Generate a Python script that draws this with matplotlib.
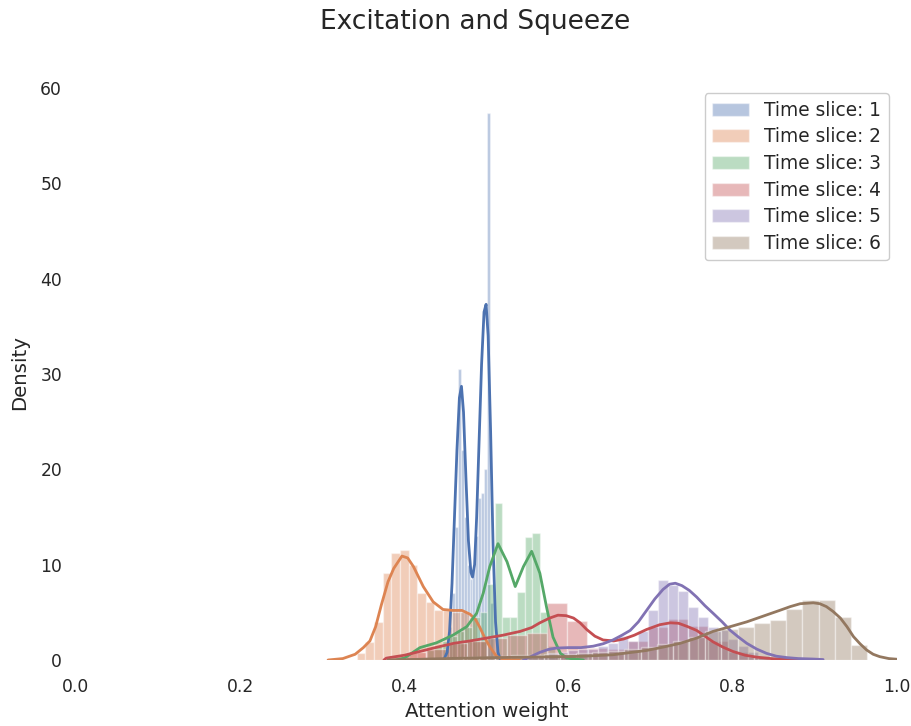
import matplotlib
matplotlib.use("Agg")
import matplotlib.pyplot as plt
import numpy as np

# ---------------- data ----------------
series_labels = ["Time slice: 1", "Time slice: 2", "Time slice: 3",
                 "Time slice: 4", "Time slice: 5", "Time slice: 6"]

# Time slice 1
s1_bin_start, s1_bin_width = 0.4505, 0.0036
s1_hist = [1.0, 3.5, 7.0, 14.0, 30.5, 22.0, 15.0, 10.0, 8.5, 9.5, 13.0, 17.0,
           17.5, 20.0, 57.4, 6.0]
s1_kde_x = [0.448, 0.452, 0.455, 0.458, 0.461, 0.464, 0.467, 0.4695, 0.472, 0.475,
            0.478, 0.481, 0.483, 0.4855, 0.488, 0.491, 0.494, 0.497, 0.4995, 0.502,
            0.505, 0.508, 0.511, 0.514, 0.517]
s1_kde_y = [0.0, 0.8, 3.0, 8.0, 15.0, 22.0, 27.5, 28.7, 26.0, 19.0,
            12.5, 9.2, 8.7, 10.0, 15.0, 23.0, 31.0, 36.5, 37.3, 34.0,
            24.0, 12.0, 4.0, 0.8, 0.0]

# Time slice 2
s2_bin_start, s2_bin_width = 0.342, 0.0105
s2_hist = [0.7, 1.9, 4.0, 9.1, 11.2, 11.5, 10.0, 7.0, 6.1, 5.2, 5.2, 5.0, 5.0, 4.5, 2.0]
s2_kde_x = [0.307, 0.325, 0.340, 0.350, 0.358, 0.365, 0.372, 0.380, 0.387, 0.397,
            0.404, 0.411, 0.423, 0.435, 0.447, 0.459, 0.470, 0.480, 0.487, 0.492,
            0.498, 0.504, 0.512, 0.520, 0.540]
s2_kde_y = [0.0, 0.15, 0.6, 1.3, 2.0, 3.5, 5.8, 8.2, 9.6, 10.9,
            10.7, 9.8, 7.7, 6.1, 5.3, 5.2, 5.2, 4.8, 4.2, 3.4,
            2.3, 1.4, 0.4, 0.08, 0.0]

# Time slice 3
s3_bin_start, s3_bin_width = 0.4272, 0.0092
s3_hist = [1.0, 1.5, 2.0, 2.5, 3.0, 3.5, 4.5, 5.0, 8.0, 16.5, 4.5, 4.5, 7.1, 12.9,
           13.3, 5.0, 1.5, 0.5, 0.3]
s3_kde_x = [0.390, 0.400, 0.419, 0.439, 0.459, 0.476, 0.488, 0.496, 0.504, 0.514,
            0.525, 0.535, 0.545, 0.555, 0.565, 0.573, 0.581, 0.590, 0.598, 0.618]
s3_kde_y = [0.0, 0.2, 1.3, 1.8, 2.6, 3.5, 4.9, 7.0, 9.8, 12.2,
            10.3, 7.7, 9.8, 11.4, 9.1, 5.6, 2.4, 0.7, 0.2, 0.0]

# Time slice 4
s4_bin_start, s4_bin_width = 0.3777, 0.0245
s4_hist = [0.4, 0.8, 1.2, 1.8, 2.0, 2.3, 2.6, 2.8, 6.0, 4.1, 1.3, 1.2, 2.0, 3.5,
           4.3, 3.6, 2.0, 0.8, 0.3]
s4_kde_x = [0.375, 0.378, 0.400, 0.419, 0.440, 0.460, 0.480, 0.500, 0.520, 0.541,
            0.555, 0.565, 0.577, 0.587, 0.597, 0.606, 0.614, 0.622, 0.632, 0.642,
            0.655, 0.667, 0.680, 0.695, 0.711, 0.724, 0.734, 0.745, 0.756, 0.766,
            0.776, 0.788, 0.800, 0.815, 0.829, 0.850, 0.870, 0.895]
s4_kde_y = [0.0, 0.2, 0.5, 0.9, 1.35, 1.75, 2.0, 2.3, 2.6, 3.0,
            3.4, 3.9, 4.4, 4.7, 4.65, 4.4, 3.9, 3.2, 2.5, 2.1,
            2.0, 2.2, 2.6, 3.2, 3.7, 3.9, 3.85, 3.5, 3.1, 2.5,
            1.9, 1.35, 0.9, 0.5, 0.3, 0.12, 0.05, 0.0]

# Time slice 5
s5_bin_start, s5_bin_width = 0.5507, 0.0122
s5_hist = [0.3, 0.5, 0.7, 0.8, 1.0, 1.2, 1.2, 1.5, 1.8, 2.5, 2.0, 3.0, 5.2, 8.4,
           7.9, 7.2, 5.6, 4.5, 3.5, 3.1, 2.2, 1.5, 0.8, 0.4]
s5_kde_x = [0.545, 0.555, 0.565, 0.575, 0.585, 0.600, 0.615, 0.630, 0.642, 0.654,
            0.665, 0.675, 0.685, 0.695, 0.705, 0.715, 0.723, 0.730, 0.738, 0.747,
            0.756, 0.766, 0.776, 0.787, 0.797, 0.807, 0.817, 0.829, 0.841, 0.853,
            0.866, 0.880, 0.898, 0.910]
s5_kde_y = [0.0, 0.4, 0.8, 1.1, 1.25, 1.3, 1.3, 1.45, 1.7, 2.1,
            2.6, 3.1, 4.0, 5.2, 6.4, 7.4, 7.95, 8.05, 7.8, 7.3,
            6.6, 5.7, 4.9, 4.0, 3.1, 2.4, 1.75, 1.15, 0.7, 0.4,
            0.25, 0.15, 0.1, 0.05]

# Time slice 6
s6_bin_start, s6_bin_width = 0.4513, 0.0197
s6_hist = [0.2, 0.3, 0.3, 0.4, 0.5, 0.5, 0.6, 0.6, 0.7, 0.8, 0.9, 1.2, 1.4, 1.7,
           2.0, 2.4, 3.0, 3.3, 3.5, 3.9, 4.2, 5.4, 6.3, 6.3, 4.5, 1.6]
s6_kde_x = [0.380, 0.420, 0.460, 0.500, 0.550, 0.614, 0.654, 0.695, 0.715, 0.736,
            0.756, 0.776, 0.797, 0.817, 0.837, 0.857, 0.870, 0.882, 0.898, 0.906,
            0.914, 0.922, 0.931, 0.939, 0.947, 0.955, 0.963, 0.971, 0.979, 0.990, 1.0]
s6_kde_y = [0.0, 0.08, 0.17, 0.24, 0.3, 0.38, 0.55, 1.0, 1.35, 1.75,
            2.3, 3.0, 3.5, 4.0, 4.6, 5.2, 5.6, 5.9, 6.0, 5.9,
            5.6, 5.1, 4.4, 3.5, 2.45, 1.7, 1.05, 0.6, 0.35, 0.15, 0.08]

xticks = [0.0, 0.2, 0.4, 0.6, 0.8, 1.0]
yticks = [0, 10, 20, 30, 40, 50, 60]

# ---------------- style ----------------
colors = ["#4C72B0", "#DD8452", "#55A868", "#C44E52", "#8172B3", "#937860"]
text_color = "#262626"
plt.rcParams["font.family"] = ["DejaVu Sans"]

series = [
    (s1_bin_start, s1_bin_width, s1_hist, s1_kde_x, s1_kde_y),
    (s2_bin_start, s2_bin_width, s2_hist, s2_kde_x, s2_kde_y),
    (s3_bin_start, s3_bin_width, s3_hist, s3_kde_x, s3_kde_y),
    (s4_bin_start, s4_bin_width, s4_hist, s4_kde_x, s4_kde_y),
    (s5_bin_start, s5_bin_width, s5_hist, s5_kde_x, s5_kde_y),
    (s6_bin_start, s6_bin_width, s6_hist, s6_kde_x, s6_kde_y),
]

fig = plt.figure(figsize=(9.12, 7.26), dpi=100)
ax = fig.add_axes([76 / 912, 66 / 726, 821 / 912, 575 / 726])

for (start, width, heights, kx, ky), col, lab in zip(series, colors, series_labels):
    n = len(heights)
    lefts = start + width * np.arange(n)
    ax.bar(lefts, heights, width=width, align="edge", color=col, alpha=0.4,
           edgecolor="white", linewidth=1.0, label=lab)
    ax.plot(kx, ky, color=col, linewidth=2.0, solid_capstyle="round",
            solid_joinstyle="round")

ax.set_xlim(0, 1)
ax.set_ylim(0, 60.3)
ax.set_xticks(xticks)
ax.set_xticklabels([f"{t:.1f}" for t in xticks])
ax.set_yticks(yticks)
for sp in ax.spines.values():
    sp.set_visible(False)
ax.tick_params(axis="both", length=0, labelsize=12.3, colors=text_color)
ax.tick_params(axis="x", pad=13)
ax.tick_params(axis="y", pad=10)

ax.set_xlabel("Attention weight", fontsize=14.2, color=text_color, labelpad=4)
ax.set_ylabel("Density", fontsize=14.2, color=text_color, labelpad=8)
ax.set_title("Excitation and Squeeze", fontsize=19.0, color=text_color, pad=40,
             x=0.486)

leg = ax.legend(loc="upper right", fontsize=13.4, frameon=True, fancybox=True,
                edgecolor="#cccccc", framealpha=1.0, labelspacing=0.41,
                borderaxespad=0.45)
for t in leg.get_texts():
    t.set_color(text_color)

fig.savefig("out.png", dpi=100, facecolor="white")
